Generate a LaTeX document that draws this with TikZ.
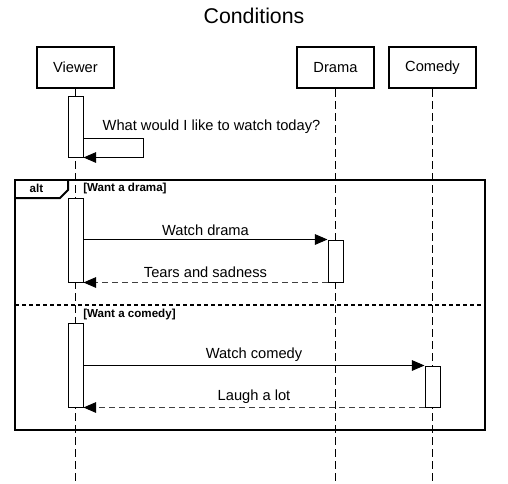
\documentclass[tikz,border=0pt]{standalone}
\usepackage{fontspec}
\setmainfont{Liberation Sans}
\usetikzlibrary{arrows.meta,calc}
\tikzset{
  actor/.style={draw, line width=1.5pt, fill=white, minimum height=30.75pt, inner sep=0pt, font=\fontsize{11}{13}\selectfont},
  actbar/.style={draw, line width=0.75pt, fill=white, minimum width=11.25pt, inner sep=0pt},
  lifeline/.style={line width=0.75pt, dash pattern=on 6pt off 3pt},
  msg/.style={line width=0.75pt, -{Triangle[length=9.5pt,width=8pt]}},
  ret/.style={line width=0.75pt, black!75, dash pattern=on 4.5pt off 3pt, -{Triangle[length=9.5pt,width=8pt,color=black,fill=black]}},
  lbl/.style={font=\fontsize{11}{13}\selectfont, inner sep=0pt},
  guard/.style={font=\fontsize{8.7}{10}\selectfont\bfseries, inner sep=0pt, anchor=west},
}
\begin{document}
\begin{tikzpicture}[x={(0.75pt,0)}, y={(0,-0.75pt)}]
\useasboundingbox (0,0) rectangle (508,483);
\node[font=\fontsize{16}{19}\selectfont] (title) at (254,16) {Conditions};
% actors
\node[actor, minimum width=57.75pt] (viewer) at (75.5,67.5) {Viewer};
\node[actor, minimum width=57.75pt] (drama) at (335.5,67.5) {Drama};
\node[actor, minimum width=65.25pt] (comedy) at (432.5,67.5) {Comedy};
% lifeline ends
\coordinate (ve) at (75.5,483);
\coordinate (de) at (335.5,483);
\coordinate (ce) at (432.5,483);
\draw[lifeline] (viewer.south) -- (ve);
\draw[lifeline] (drama.south) -- (de);
\draw[lifeline] (comedy.south) -- (ce);
% alt frame
\coordinate (ftl) at (15,180);
\coordinate (fbr) at (485,430);
\draw[line width=1.5pt] (ftl) rectangle (fbr);
\draw[line width=1.5pt] (15,198) -- (60,198) -- (68,190) -- (68,180);
\node[font=\fontsize{8.7}{10}\selectfont\bfseries, inner sep=0pt] (alt) at (36.5,188) {alt};
\node[guard] (g1) at (83,188) {[Want a drama]};
\coordinate (dl) at (15,305);
\coordinate (dr) at (485,305);
\draw[line width=1.5pt, dash pattern=on 3pt off 2.25pt] (dl) -- (dr);
\node[guard] (g2) at (83,314) {[Want a comedy]};
% activations
\node[actbar, minimum height=45.75pt] (a1) at (75.5,126.5) {};
\node[actbar, minimum height=63pt] (a2) at (75.5,240) {};
\node[actbar, minimum height=31.5pt] (da) at (335.5,261) {};
\node[actbar, minimum height=63pt] (a3) at (75.5,365) {};
\node[actbar, minimum height=30.75pt] (ca) at (432.5,386.5) {};
% self message
\coordinate (s1) at (143,138);
\draw[msg] (a1.east |- s1) -- (s1) -- (s1 |- a1.south) -- (a1.south east);
\node[lbl] (t1) at (211.5,127) {What would I like to watch today?};
% drama
\draw[msg] (da.north west -| a2.east) -- (da.north west);
\node[lbl] (t2) at (205.5,230) {Watch drama};
\draw[ret] (da.south west) -- (a2.south east);
\node[lbl] (t3) at (205.5,272) {Tears and sadness};
% comedy
\draw[msg] (ca.north west -| a3.east) -- (ca.north west);
\node[lbl] (t4) at (254,355) {Watch comedy};
\draw[ret] (ca.south west) -- (a3.south east);
\node[lbl] (t5) at (254,397) {Laugh a lot};
\end{tikzpicture}
\end{document}
